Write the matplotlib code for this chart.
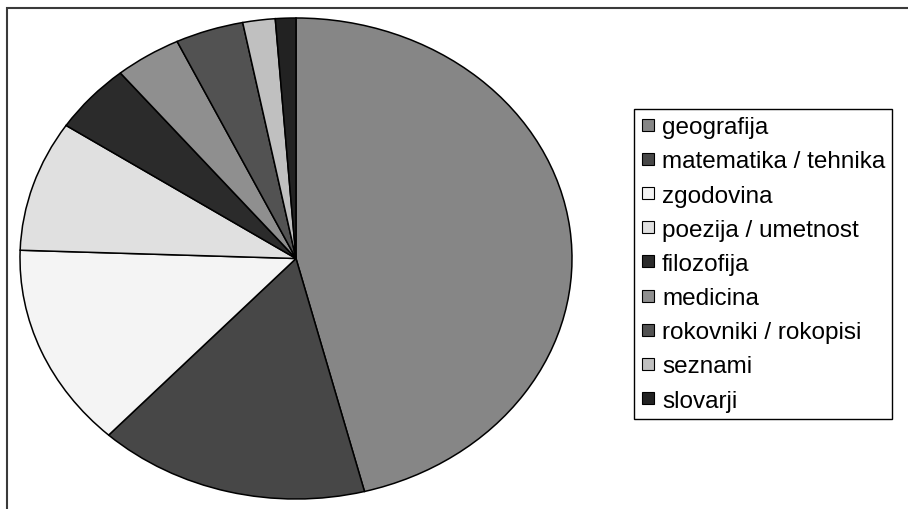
import matplotlib.pyplot as plt
from matplotlib.lines import Line2D
from matplotlib.patches import Rectangle

plt.rcParams['font.family'] = ['Liberation Sans', 'DejaVu Sans']

categories = ["geografija", "matematika / tehnika", "zgodovina", "poezija / umetnost",
              "filozofija", "medicina", "rokovniki / rokopisi", "seznami", "slovarji"]
shares = [46.1, 15.9, 13.7, 8.8, 4.7, 3.9, 4.0, 1.9, 1.2]
colors = ["#868686", "#474747", "#f4f4f4", "#e0e0e0", "#2b2b2b",
          "#8f8f8f", "#525252", "#c0c0c0", "#222222"]

W, H = 908, 510
fig = plt.figure(figsize=(W / 100, H / 100), dpi=100)

# outer chart frame (runs off the right and bottom edges)
fig.patches.append(Rectangle((7 / W, -0.1), 1.2, 1 - 9 / H + 0.1, transform=fig.transFigure,
                             fill=False, edgecolor="#3a3a3a", linewidth=1.5))

# pie is stretched into an ellipse
left, right, top, bottom = 20, 572, 19, 500
ax = fig.add_axes([left / W, 1 - bottom / H, (right - left) / W, (bottom - top) / H])
wedges, _ = ax.pie(shares, colors=colors, startangle=90, counterclock=False,
                   wedgeprops=dict(edgecolor="black", linewidth=1.1))
ax.set_aspect('auto')
ax.set_xlim(-1, 1)
ax.set_ylim(-1, 1)
ax.axis('off')

handles = [Line2D([], [], linestyle='none', marker='s', markersize=8.5,
                  markerfacecolor=c, markeredgecolor='black', markeredgewidth=0.8)
           for c in colors]
leg = fig.legend(handles, categories, loc='upper left',
                 bbox_to_anchor=(634 / W, 1 - 110 / H), fontsize=17.5,
                 frameon=True, fancybox=False, edgecolor='black', framealpha=1,
                 handlelength=0.55, handletextpad=0.3, labelspacing=0.5,
                 borderpad=0.3, borderaxespad=0)
leg.get_frame().set_linewidth(1.0)

fig.savefig("out.png", dpi=100)
